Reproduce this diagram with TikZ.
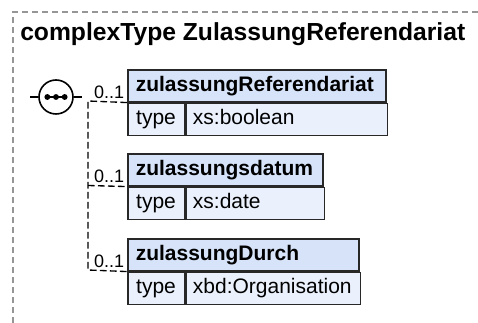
\documentclass[tikz,border=0pt]{standalone}
\usepackage{fontspec}
\setmainfont{Liberation Sans}
\definecolor{hdrfill}{RGB}{214,227,248}
\definecolor{rowfill}{RGB}{234,241,252}
\definecolor{bordergray}{RGB}{150,150,150}
\definecolor{boxline}{RGB}{40,40,40}
\tikzset{
  frameline/.style={draw=bordergray, line width=1.1pt, dash pattern=on 4.5pt off 3pt},
  conn/.style={draw=black, line width=1pt, dash pattern=on 5pt off 2.5pt},
  hdr/.style={draw=boxline, fill=hdrfill, line width=1.2pt, anchor=north west,
    minimum height=23.6pt, inner xsep=6pt, inner ysep=0pt, align=left,
    font=\fontsize{15.75pt}{18pt}\selectfont\bfseries, text height=11.3pt, text depth=3.4pt},
  typecell/.style={draw=boxline, fill=rowfill, line width=1.2pt, anchor=north west,
    minimum height=24pt, minimum width=42.4pt, inner xsep=0pt, inner ysep=0pt,
    font=\fontsize{15.75pt}{18pt}\selectfont, text height=11.3pt, text depth=3.4pt},
  valcell/.style={draw=boxline, fill=rowfill, line width=1.2pt, anchor=north west,
    minimum height=24pt, inner xsep=5.25pt, inner ysep=0pt, align=left,
    font=\fontsize{15.75pt}{18pt}\selectfont, text height=11.3pt, text depth=3.4pt},
  card/.style={anchor=base east, inner sep=0pt, font=\fontsize{13.5pt}{16pt}\selectfont},
  seqcircle/.style={draw=black, fill=white, circle, line width=1.2pt, minimum size=25.5pt, inner sep=0pt}
}
\begin{document}
\begin{tikzpicture}[x=0.75pt, y=-0.75pt]
\useasboundingbox (0,0) rectangle (478,323);
% outer dashed frame (top and left visible)
\draw[frameline] (13,323) -- (13,12) -- (478,12);
% title
\node[anchor=base west, inner sep=0pt, font=\fontsize{18.5pt}{22pt}\selectfont\bfseries] (title) at (20,41) {complexType ZulassungReferendariat};

% sequence compositor
\node[seqcircle] (seq) at (56,97) {};
\coordinate (seqin) at (30,97);
\coordinate (seqout) at (82,97);
\draw[black, line width=1pt] (seqin) -- (seq.west);
\draw[black, line width=1pt] (seq.east) -- (seqout);
\draw[black, line width=1.2pt] ([xshift=-7pt]seq.center) -- ([xshift=7pt]seq.center);
\fill[black] ([xshift=-6.5pt]seq.center) circle (2.2pt);
\fill[black] (seq.center) circle (2.2pt);
\fill[black] ([xshift=6.5pt]seq.center) circle (2.2pt);

% element 1
\node[hdr, text width=181.5pt] (h1) at (127,69.5) {zulassungReferendariat};
\node[typecell] (t1) at (h1.south west) {type};
\node[valcell, text width=140.6pt] (v1) at (t1.north east) {xs:boolean};
% element 2
\node[hdr, text width=134.25pt] (h2) at (127,153.5) {zulassungsdatum};
\node[typecell] (t2) at (h2.south west) {type};
\node[valcell, text width=93.4pt] (v2) at (t2.north east) {xs:date};
% element 3
\node[hdr, text width=161.25pt] (h3) at (127,238.5) {zulassungDurch};
\node[typecell] (t3) at (h3.south west) {type};
\node[valcell, text width=120.4pt] (v3) at (t3.north east) {xbd:Organisation};

% connectors
\coordinate (j1) at (88,101);
\coordinate (j2) at (88,185.5);
\coordinate (j3) at (88,270);
\draw[conn] (h1.south west) -- (j1) -- (j3) -- (h3.south west);
\draw[conn] (j2) -- (h2.south west);

% cardinalities
\node[card] (c1) at (124.5,98.5) {0..1};
\node[card] (c2) at (124.5,183) {0..1};
\node[card] (c3) at (124.5,267.5) {0..1};
\end{tikzpicture}
\end{document}
